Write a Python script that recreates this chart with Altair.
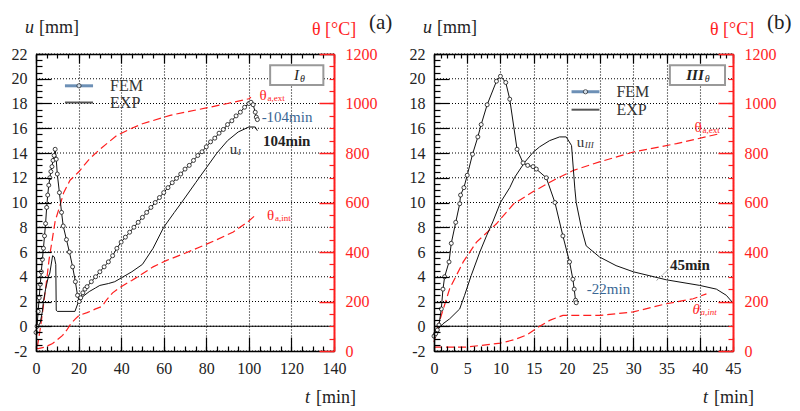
import altair as alt
import pandas as pd

# ---------------- Panel (a): specimen I_theta ----------------
A_FEM_T = [0, 0.5, 1, 1.5, 2, 2.5, 3, 3.5, 4, 4.5, 5, 5.5, 6, 6.5, 7, 7.5, 8, 8.5, 9, 9.5,
           10, 11, 12, 12.8, 14.3, 15.7, 17.2, 18.5, 19.5, 20.3,
           21, 22, 23, 24,
           26, 28, 30, 32, 34, 36, 38, 40, 42, 44, 46, 48, 50, 52, 54, 56, 58, 60, 62, 64,
           66, 68, 70, 72, 74, 76, 78, 80, 82, 84, 86, 88, 90, 92, 94, 96, 98, 100,
           101, 102, 103, 103.5, 104]
A_FEM_U = [-0.5, 0.0, 1.2, 2.3, 3.4, 4.4, 5.4, 6.3, 7.3, 8.3, 9.6, 10.6, 11.4, 12.0, 12.5, 12.9, 13.4, 13.8, 14.3, 13.5,
           12.3, 10.8, 9.2, 8.1, 7.0, 6.0, 4.8, 3.6, 2.5, 2.0,
           2.3, 2.7, 3.0, 3.2,
           3.6, 4.0, 4.4, 4.8, 5.2, 5.7, 6.3, 6.8, 7.2, 7.6, 8.0, 8.4, 8.8, 9.2, 9.6, 10.0, 10.4, 10.8, 11.2, 11.6,
           11.95, 12.3, 12.7, 13.0, 13.4, 13.8, 14.1, 14.5, 14.9, 15.2, 15.6, 15.9, 16.3, 16.6, 17.0, 17.3, 17.7, 18.0,
           18.1, 17.9, 17.3, 16.9, 16.7]

A_EXP_T = [0, 1, 2, 3, 3.5, 4.5, 5.8, 6.5, 7.8, 8.6, 9.3, 9.5, 10, 18.3, 20, 22, 25, 28, 30,
           34, 37, 40, 45, 50, 55, 60, 65, 68.4, 75, 80, 85, 90, 95, 100, 103, 104]
A_EXP_U = [-0.3, 0.0, 0.3, 1.2, 2.0, 3.0, 4.0, 4.3, 5.7, 5.6, 5.0, 1.3, 1.2, 1.2, 2.0, 2.4, 2.8, 3.1, 3.3,
           3.45, 3.6, 3.9, 4.4, 5.0, 6.3, 8.0, 9.2, 10.0, 11.6, 12.8, 14.0, 15.0, 15.7, 16.1, 16.1, 15.8]

A_EXT_T = [0, 0.8, 2, 3.1, 4.7, 6.2, 8, 9, 11.3, 13, 16, 20, 25, 30, 38, 45, 50, 63, 70, 80, 90, 100, 101]
A_EXT_TH = [15, 25, 90, 158, 265, 373, 470, 525, 589, 640, 690, 723, 775, 815, 871, 900, 918, 952, 965, 982, 1000, 1019, 1025]

A_INT_T = [0, 1, 4, 7.8, 10, 12.5, 14.5, 16.4, 18.5, 20.3, 24, 28, 31, 33, 36, 40, 45, 50, 55, 61.4,
           70, 77, 85, 92.7, 100, 103]
A_INT_TH = [12, 10, 15, 30, 45, 63, 85, 110, 130, 144, 155, 170, 180, 205, 235, 260, 285, 312, 340, 366,
            395, 420, 450, 481, 525, 548]

# ---------------- Panel (b): specimen III_theta ----------------
B_FEM_T = [0, 0.25, 0.5, 0.75, 1.1, 1.35, 1.6, 2.26, 2.6, 3.27, 3.87, 4.0, 4.5, 5.0, 5.8, 6.6, 7.1, 8.0, 9.4, 10.0,
           10.8, 11.4, 12.5, 13.4, 14.1, 14.9, 15.4, 16.9, 18.2, 19.4, 20.4, 20.9, 21.1, 21.3, 21.4]
B_FEM_U = [-0.8, -0.6, -0.3, 0.1, 1.4, 3.0, 4.0, 5.2, 6.7, 8.4, 9.9, 10.6, 11.2, 12.2, 13.9, 15.3, 16.3, 17.9, 19.8, 20.2,
           19.7, 18.35, 14.3, 13.2, 13.0, 12.9, 12.7, 12.0, 10.0, 7.3, 5.2, 3.8, 3.0, 2.1, 1.9]

B_EXP_T = [0, 0.5, 1.35, 2.36, 3.87, 4.6, 5.6, 6.9, 7.9, 8.9, 10, 11.4, 12.1, 13.65, 14.9, 15.9, 17.4, 18.9, 19.9, 20.7,
           21.2, 21.4, 22.2, 22.9, 24.9, 27.4, 30, 35, 40, 42.5, 44, 44.8]
B_EXP_U = [-0.6, -0.3, 0.2, 0.6, 1.4, 2.5, 4.1, 6.0, 7.3, 8.5, 10.0, 11.2, 12.0, 13.25, 14.05, 14.5, 15.0, 15.3, 15.3, 14.6,
           11.1, 10.0, 7.9, 6.5, 5.6, 4.9, 4.4, 3.75, 3.3, 3.0, 2.5, 2.0]

B_EXT_T = [0, 0.5, 1.1, 2.36, 4.4, 6.4, 9.4, 12, 15, 18.4, 21, 24.9, 30, 36.5, 43]
B_EXT_TH = [36, 90, 144, 252, 360, 440, 514, 595, 645, 696, 730, 764, 804, 838, 878]

B_INT_T = [0, 5, 10, 12, 14, 15.9, 17.5, 19.4, 25, 30, 35, 39, 41]
B_INT_TH = [16, 16, 32, 45, 65, 100, 125, 144, 144, 158, 191, 211, 231]

# ---------------- axes / tick labels ----------------
U_TICKS = [-2, 0, 2, 4, 6, 8, 10, 12, 14, 16, 18, 20, 22]
TH_TICKS = [0, 200, 400, 600, 800, 1000, 1200]
A_T_TICKS = [0, 20, 40, 60, 80, 100, 120, 140]
B_T_TICKS = [0, 5, 10, 15, 20, 25, 30, 35, 40, 45]
U_MINOR = [-2 + 0.5 * i for i in range(49)]
TH_MINOR = [50 * i for i in range(25)]
A_T_MINOR = [5 * i for i in range(29)]
B_T_MINOR = [i for i in range(46)]

U_DOM = [-2, 22]
TH_DOM = [0, 1200]
PW, H = 298, 297          # one panel's plot area
X0_A, X0_B = 0, 398       # left edge of each panel inside the single canvas
TOTAL_W = X0_B + 299
SERIF = "Liberation Serif, Times New Roman, serif"
RED = "#ff1e1e"
BLUE = "#3a6795"
INK = "#222222"


def sc(dom, rng=None):
    if rng is None:
        return alt.Scale(domain=dom, nice=False, zero=False)
    return alt.Scale(domain=dom, range=rng, nice=False, zero=False)


def build_panel(P):
    xd = P["xdom"]
    x0 = P["x0"]
    pw = P["pw"]
    xr = [x0, x0 + pw]
    right_gap = TOTAL_W - (x0 + pw)

    def XS():
        return sc(xd, xr)

    def axis_layer(channel, dom, **kw):
        df = pd.DataFrame({"v": [dom[0]]})
        ax = alt.Axis(**kw)
        if channel == "x":
            enc = {"x": alt.X("v:Q", scale=XS(), axis=ax, title=None)}
        else:
            enc = {"y": alt.Y("v:Q", scale=sc(dom), axis=ax, title=None),
                   "x": alt.value(x0)}
        return alt.Chart(df).mark_point(opacity=0).encode(**enc)

    def tick_axis(channel, dom, orient, values, size, base_off=0, color="#000", width=1.2):
        return axis_layer(channel, dom, orient=orient, values=values, ticks=True, tickSize=size,
                          tickWidth=width, tickColor=color, offset=-(base_off + size), labels=False,
                          domain=False, grid=False, zindex=1)

    def line_layer(t, v, ydom, **mk):
        df = pd.DataFrame({"t": t, "v": v})
        return alt.Chart(df).mark_line(**mk).encode(
            x=alt.X("t:Q", scale=XS(), axis=None),
            y=alt.Y("v:Q", scale=sc(ydom), axis=None),
        )

    def dtext(t, u, text, **mk):
        df = pd.DataFrame({"t": [t], "u": [u]})
        base = dict(font=SERIF, fontSize=15, align="left", baseline="middle", color=INK)
        base.update(mk)
        return alt.Chart(df).mark_text(text=text, **base).encode(
            x=alt.X("t:Q", scale=XS(), axis=None),
            y=alt.Y("u:Q", scale=sc(U_DOM), axis=None),
        )

    def ptext(x, y, text, **mk):
        base = dict(font=SERIF, fontSize=18, align="left", baseline="alphabetic", color=INK)
        base.update(mk)
        return alt.Chart(pd.DataFrame({"a": [0]})).mark_text(text=text, **base).encode(
            x=alt.value(x0 + x), y=alt.value(y))

    L = []
    # dotted grid: vertical from an axis, horizontal as rules limited to this panel
    L.append(axis_layer("x", xd, orient="bottom", values=P["xmajor"], grid=True, gridColor="#000",
                        gridDash=[1, 2], gridWidth=1.1, labels=False, ticks=False, domain=False))
    gdf = pd.DataFrame({"u": U_TICKS, "t0": [xd[0]] * len(U_TICKS), "t1": [xd[1]] * len(U_TICKS)})
    L.append(alt.Chart(gdf).mark_rule(color="#000", strokeWidth=1.1, strokeDash=[1, 2]).encode(
        x=alt.X("t0:Q", scale=XS(), axis=None), x2="t1:Q",
        y=alt.Y("u:Q", scale=sc(U_DOM), axis=None)))

    # bottom axis with labels
    L.append(axis_layer("x", xd, orient="bottom", values=P["xmajor"], labels=True, labelFont=SERIF,
                        labelFontSize=16, labelColor=INK, labelPadding=9, labelFlush=False,
                        labelOverlap=False, format="d", ticks=False, tickSize=0, domain=True,
                        domainColor="#000", domainWidth=1.5, grid=False, zindex=1))
    L.append(tick_axis("x", xd, "bottom", P["xmajor"], 14))
    L.append(tick_axis("x", xd, "bottom", P["xminor"], 5))
    # top frame
    L.append(axis_layer("x", xd, orient="top", values=P["xmajor"], labels=False, ticks=False,
                        domain=True, domainColor="#000", domainWidth=1.5, grid=False, zindex=1))
    L.append(tick_axis("x", xd, "top", P["xmajor"], 9))
    L.append(tick_axis("x", xd, "top", P["xminor"], 4))
    # left axis u
    L.append(axis_layer("y", U_DOM, orient="left", offset=-x0, values=U_TICKS, labels=True,
                        labelFont=SERIF, labelFontSize=16, labelColor=INK, labelPadding=9,
                        labelFlush=False, labelOverlap=False, format="d",
                        labelExpr="datum.value < 0 ? '-' + (-datum.value) : datum.label",
                        ticks=False, tickSize=0, domain=True, domainColor="#000", domainWidth=1.5,
                        grid=False, zindex=1))
    L.append(tick_axis("y", U_DOM, "left", U_TICKS, 15, base_off=x0))
    L.append(tick_axis("y", U_DOM, "left", U_MINOR, 6, base_off=x0))
    # right axis theta
    L.append(axis_layer("y", TH_DOM, orient="right", offset=-right_gap, values=TH_TICKS, labels=True,
                        labelFont=SERIF, labelFontSize=16, labelColor=RED, labelPadding=11,
                        labelFlush=False, labelOverlap=False, format="d", ticks=False, tickSize=0,
                        domain=True, domainColor=RED, domainWidth=2, grid=False, zindex=1))
    L.append(tick_axis("y", TH_DOM, "right", TH_TICKS, 15, base_off=right_gap, color=RED, width=1.5))
    L.append(tick_axis("y", TH_DOM, "right", TH_MINOR, 5, base_off=right_gap, color=RED, width=1.2))

    # u = 0 line
    zdf = pd.DataFrame({"u": [0], "t0": [xd[0]], "t1": [xd[1]]})
    L.append(alt.Chart(zdf).mark_rule(color="#000", strokeWidth=1.2).encode(
        x=alt.X("t0:Q", scale=XS(), axis=None), x2="t1:Q",
        y=alt.Y("u:Q", scale=sc(U_DOM), axis=None)))

    # temperature curves
    L.append(line_layer(P["ext_t"], P["ext_th"], TH_DOM, color=RED, strokeWidth=1.2, strokeDash=[8, 4]))
    L.append(line_layer(P["int_t"], P["int_th"], TH_DOM, color=RED, strokeWidth=1.2, strokeDash=[8, 4]))

    # displacement curves
    L.append(line_layer(P["exp_t"], P["exp_u"], U_DOM, color="#111", strokeWidth=1))
    L.append(line_layer(P["fem_t"], P["fem_u"], U_DOM, color="#111", strokeWidth=1,
                        point=alt.OverlayMarkDef(filled=False, fill="white", size=16, stroke="#111",
                                                 strokeWidth=0.8)))

    # legend (manual)
    lg = P["legend"]
    for uu, col, sw in ((lg["u_fem"], "#6d90b6", 3), (lg["u_exp"], "#555", 2)):
        ldf = pd.DataFrame({"t0": [lg["t0"]], "t1": [lg["t1"]], "u": [uu]})
        L.append(alt.Chart(ldf).mark_rule(color=col, strokeWidth=sw).encode(
            x=alt.X("t0:Q", scale=XS(), axis=None), x2="t1:Q",
            y=alt.Y("u:Q", scale=sc(U_DOM), axis=None)))
    L.append(alt.Chart(pd.DataFrame({"t": [(lg["t0"] + lg["t1"]) / 2], "u": [lg["u_fem"]]}))
             .mark_point(filled=False, fill="white", size=18, stroke="#111", strokeWidth=0.9)
             .encode(x=alt.X("t:Q", scale=XS(), axis=None), y=alt.Y("u:Q", scale=sc(U_DOM), axis=None)))
    L.append(dtext(lg["t_txt"], lg["u_fem"], "FEM", fontSize=16, color="#333"))
    L.append(dtext(lg["t_txt"], lg["u_exp"], "EXP", fontSize=16, color="#333"))

    # specimen box
    bx = P["box"]
    L.append(alt.Chart(pd.DataFrame({"t0": [bx["t0"]], "t1": [bx["t1"]], "u0": [bx["u0"]], "u1": [bx["u1"]]}))
             .mark_rect(fill="white", stroke="#999", strokeWidth=2)
             .encode(x=alt.X("t0:Q", scale=XS(), axis=None), x2="t1:Q",
                     y=alt.Y("u0:Q", scale=sc(U_DOM), axis=None), y2="u1:Q"))
    L.append(dtext(bx["tc"], (bx["u0"] + bx["u1"]) / 2, bx["name"], fontSize=15, fontStyle="italic",
                   align="right", fontWeight=bx["weight"]))
    L.append(dtext(bx["tc"], (bx["u0"] + bx["u1"]) / 2, "θ", fontSize=10, fontStyle="italic",
                   dx=1, dy=4))

    # annotations
    for a in P["notes"]:
        kw = {k: v for k, v in a.items() if k not in ("t", "u", "text")}
        L.append(dtext(a["t"], a["u"], a["text"], **kw))
    for ld in P["leaders"]:
        ldf = pd.DataFrame({"t0": [ld[0]], "u0": [ld[1]], "t1": [ld[2]], "u1": [ld[3]]})
        L.append(alt.Chart(ldf).mark_rule(color="#777", strokeWidth=0.8, strokeDash=[2, 1]).encode(
            x=alt.X("t0:Q", scale=XS(), axis=None), x2="t1:Q",
            y=alt.Y("u0:Q", scale=sc(U_DOM), axis=None), y2="u1:Q"))

    # header / axis titles
    L.append(ptext(-11, -21, "u", fontStyle="italic"))
    L.append(ptext(3, -21, "[mm]"))
    L.append(ptext(276, -19, "θ [°C]", color=RED))
    L.append(ptext(333, -25, P["tag"], fontSize=21))
    L.append(ptext(269, 349, "t", fontStyle="italic"))
    L.append(ptext(280, 349, "[min]"))
    return L


PA = dict(
    x0=X0_A, pw=PW,
    xdom=[0, 140], xmajor=A_T_TICKS, xminor=A_T_MINOR, tag="(a)",
    fem_t=A_FEM_T, fem_u=A_FEM_U, exp_t=A_EXP_T, exp_u=A_EXP_U,
    ext_t=A_EXT_T, ext_th=A_EXT_TH, int_t=A_INT_T, int_th=A_INT_TH,
    legend=dict(t0=13.6, t1=26.8, u_fem=19.43, u_exp=18.08, t_txt=34.8),
    box=dict(t0=110, t1=135, u0=19.5, u1=21.1, tc=123.5, name="I", weight="normal"),
    notes=[
        dict(t=105, u=18.7, text="θ", color=RED, fontSize=15),
        dict(t=105, u=18.7, text="a,ext", color=RED, fontSize=9, dx=8, dy=3),
        dict(t=106.0, u=16.9, text="-104min", color=BLUE, fontSize=15),
        dict(t=106.6, u=15.0, text="104min", fontWeight="bold", fontSize=15),
        dict(t=91.0, u=14.3, text="u", fontSize=15, color="#333"),
        dict(t=91.0, u=14.3, text="I", fontSize=9, fontStyle="italic", dx=8, dy=3, color="#333"),
        dict(t=108.5, u=9.0, text="θ", color=RED, fontSize=15),
        dict(t=108.5, u=9.0, text="a,int", color=RED, fontSize=9, dx=8, dy=3),
    ],
    leaders=[],
)

PB = dict(
    x0=X0_B, pw=TOTAL_W - X0_B,
    xdom=[0, 45], xmajor=B_T_TICKS, xminor=B_T_MINOR, tag="(b)",
    fem_t=B_FEM_T, fem_u=B_FEM_U, exp_t=B_EXP_T, exp_u=B_EXP_U,
    ext_t=B_EXT_T, ext_th=B_EXT_TH, int_t=B_INT_T, int_th=B_INT_TH,
    legend=dict(t0=20.7, t1=24.9, u_fem=18.95, u_exp=17.5, t_txt=27.45),
    box=dict(t0=35.5, t1=43.8, u0=19.5, u1=21.1, tc=40.6, name="III", weight="bold"),
    notes=[
        dict(t=39.2, u=16.1, text="θ", color=RED, fontSize=15),
        dict(t=39.2, u=16.1, text="a,ext", color=RED, fontSize=9, dx=8, dy=3),
        dict(t=21.5, u=14.9, text="u", fontSize=15, color="#333"),
        dict(t=21.5, u=14.9, text="III", fontSize=9, fontStyle="italic", dx=8, dy=3, color="#333"),
        dict(t=35.5, u=4.95, text="45min", fontWeight="bold", fontSize=15),
        dict(t=23.0, u=3.0, text="-22min", color=BLUE, fontSize=15),
        dict(t=38.9, u=1.4, text="θ", color=RED, fontSize=15, fontStyle="italic"),
        dict(t=38.9, u=1.4, text="a,int", color=RED, fontSize=9, fontStyle="italic", dx=8, dy=3),
    ],
    leaders=[(33.5, 3.7, 35.3, 4.6)],
)

layers = build_panel(PA) + build_panel(PB)
chart = alt.layer(*layers).resolve_scale(x="independent", y="independent").properties(
    width=TOTAL_W, height=H,
    padding={"left": 3, "top": 4, "right": 0, "bottom": 0},
).configure_view(strokeWidth=0)

chart.save("out.html", embed_options={"renderer": "svg", "actions": False})
